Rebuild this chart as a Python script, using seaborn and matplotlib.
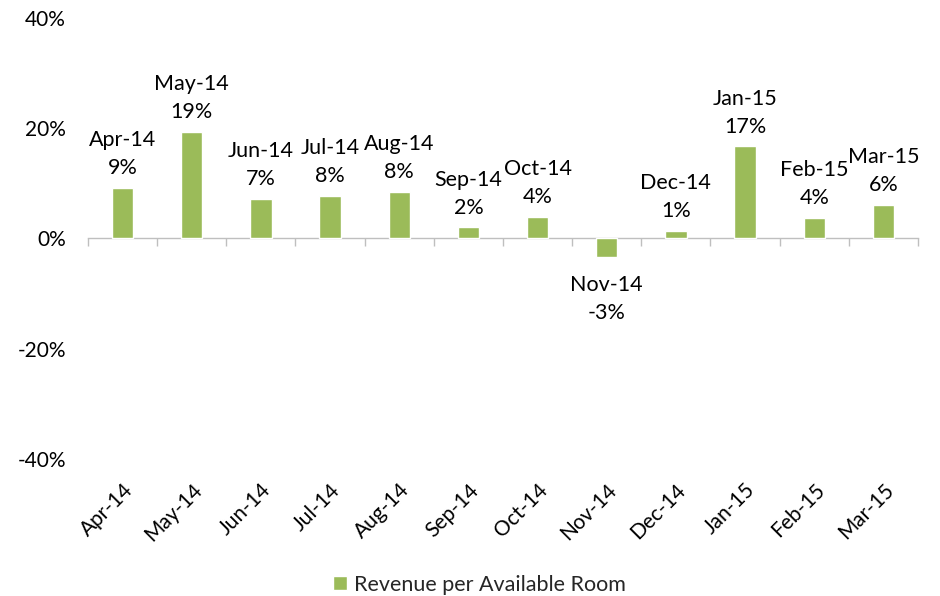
import numpy as np
import pandas as pd
import matplotlib
matplotlib.use("Agg")
import matplotlib.pyplot as plt
import seaborn as sns

# Monthly RevPAR growth
months = ['Apr-14', 'May-14', 'Jun-14', 'Jul-14', 'Aug-14', 'Sep-14',
          'Oct-14', 'Nov-14', 'Dec-14', 'Jan-15', 'Feb-15', 'Mar-15']
revpar = [9.2, 19.3, 7.2, 7.7, 8.5, 2.0, 3.9, -3.4, 1.4, 16.7, 3.7, 6.1]
y_ticks = [-40, -20, 0, 20, 40]
series_name = 'Revenue per Available Room'

df = pd.DataFrame({'month': months, 'revpar': revpar})

sns.set_style('white')
plt.rcParams['font.family'] = ['Lato', 'DejaVu Sans']

fig = plt.figure(figsize=(9.4, 5.96), dpi=100)
ax = fig.add_axes([0.0936, 0.2299, 0.883, 0.7399])

sns.barplot(data=df, x='month', y='revpar', color='#9BBB59', width=0.31,
            saturation=1, label=series_name, legend=False, ax=ax)

# Data labels: month name and rounded value
for i, (m, v) in enumerate(zip(months, revpar)):
    ax.annotate(f'{m}\n{v:.0f}%', xy=(i, v), xytext=(0, 7 if v >= 0 else -13),
                textcoords='offset points', ha='center',
                va='bottom' if v >= 0 else 'top', fontsize=15.5,
                linespacing=1.5, color='black')

ax.set_ylim(-40, 40)
ax.set_yticks(y_ticks)
ax.set_yticklabels([f'{t}%' for t in y_ticks])
ax.set_xlim(-0.5, len(months) - 0.5)
ax.set_xticks(range(len(months)))
ax.set_xticklabels(months, rotation=45, ha='right', rotation_mode='anchor')
ax.tick_params(axis='y', length=0, pad=16, labelsize=15, labelcolor='black')
ax.tick_params(axis='x', length=0, pad=15, labelsize=15, labelcolor='black')
ax.set_xlabel('')
ax.set_ylabel('')
for s in ax.spines.values():
    s.set_visible(False)

# Category axis line at zero with tick marks between categories
sec = ax.secondary_xaxis(0, transform=ax.transData)
sec.set_xticks(np.arange(-0.5, len(months), 1.0))
sec.set_xticklabels([])
sec.tick_params(axis='x', length=6, width=1, color='#BFBFBF', direction='out')
sec.spines['bottom'].set_color('#BFBFBF')
sec.spines['bottom'].set_linewidth(1)

handles, labels = ax.get_legend_handles_labels()
fig.legend(handles[:1], labels[:1], loc='lower center', bbox_to_anchor=(0.51, -0.03),
           frameon=False, fontsize=15.5, handlelength=0.65, handleheight=0.65,
           handletextpad=0.35)

fig.savefig('out.png', dpi=100)
